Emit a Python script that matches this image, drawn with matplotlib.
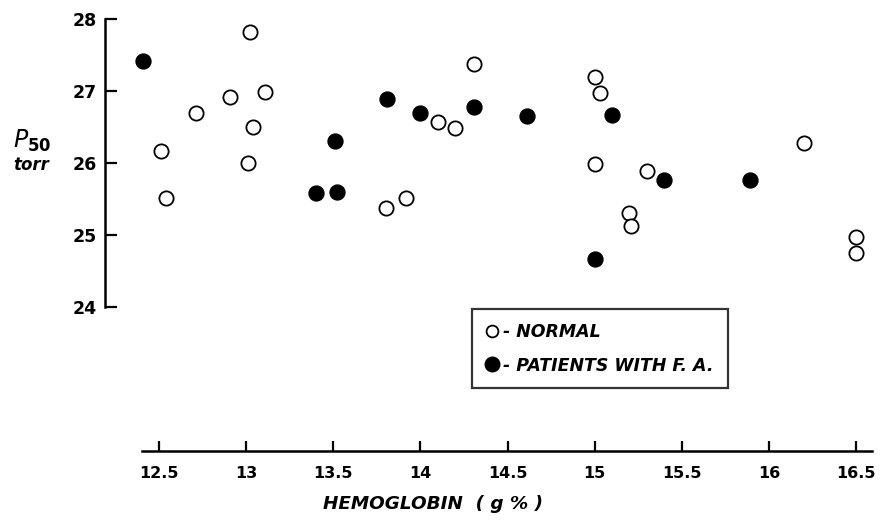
import matplotlib.pyplot as plt
from matplotlib.lines import Line2D

# normal subjects
normal_hb = [13.02, 12.71, 12.91, 13.11, 12.51, 12.54, 13.04, 13.01, 13.80, 13.92, 14.10,
             14.20, 14.31, 15.00, 15.03, 15.00, 15.30, 15.20, 15.21, 16.20, 16.50, 16.50]
normal_p50 = [27.82, 26.70, 26.91, 26.99, 26.17, 25.51, 26.50, 26.00, 25.38, 25.51, 26.57,
              26.48, 27.38, 27.19, 26.97, 25.99, 25.89, 25.31, 25.13, 26.28, 24.97, 24.75]

# patients with F.A.
fa_hb = [12.41, 13.51, 13.40, 13.52, 13.81, 14.00, 14.31, 14.61, 15.10, 15.40, 15.89, 15.00]
fa_p50 = [27.41, 26.30, 25.58, 25.60, 26.89, 26.69, 26.78, 26.65, 26.66, 25.77, 25.77, 24.67]

xticks = [12.5, 13, 13.5, 14, 14.5, 15, 15.5, 16, 16.5]
xticklabels = ["12.5", "13", "13.5", "14", "14.5", "15", "15.5", "16", "16.5"]
yticks = [24, 25, 26, 27, 28]

W, H = 886, 521
fig = plt.figure(figsize=(W / 100, H / 100), dpi=100)
plt.rcParams["mathtext.fontset"] = "dejavusans"

# axes box placed in pixels
left, right, top, bottom = 105, 871.7, 19, 451
ax = fig.add_axes([left / W, 1 - bottom / H, (right - left) / W, (bottom - top) / H])
ax.set_xlim(12.19, 16.59)
ax.set_ylim(22.0, 28.0)

ax.scatter(normal_hb, normal_p50, s=105, facecolors="white", edgecolors="black",
           linewidths=1.3, zorder=3)
ax.scatter(fa_hb, fa_p50, s=115, facecolors="black", edgecolors="black",
           linewidths=1.0, zorder=3)

for s in ["top", "right"]:
    ax.spines[s].set_visible(False)
ax.spines["left"].set_bounds(24, 28)
ax.spines["bottom"].set_bounds(12.40, 16.59)
ax.spines["left"].set_linewidth(1.8)
ax.spines["bottom"].set_linewidth(1.8)

font = dict(family="DejaVu Sans", weight="bold")
ax.set_yticks(yticks)
ax.set_yticklabels([str(v) for v in yticks], fontsize=12.5, **font)
ax.set_xticks(xticks)
ax.set_xticklabels(xticklabels, fontsize=11.5, **font)
ax.tick_params(axis="y", direction="in", length=8.5, width=1.6, pad=6)
ax.tick_params(axis="x", direction="in", length=7.5, width=1.6, pad=11)

fig.text(433 / W, 1 - 504 / H, "HEMOGLOBIN  ( g % )", ha="center", va="center",
         fontsize=13.2, style="italic", **font)
fig.text(32 / W, 1 - 141 / H, r"$\mathit{P}_{\mathbf{50}}$", ha="center", va="center",
         fontsize=17)
fig.text(31 / W, 1 - 165 / H, "torr", ha="center", va="center", fontsize=12,
         style="italic", **font)

handles = [
    Line2D([], [], marker="o", linestyle="none", markersize=8.5, markerfacecolor="white",
           markeredgecolor="black", markeredgewidth=1.3),
    Line2D([], [], marker="o", linestyle="none", markersize=10.5, markerfacecolor="black",
           markeredgecolor="black"),
]
leg = fig.legend(handles, ["- NORMAL", "- PATIENTS WITH F. A."],
                 loc="upper left", bbox_to_anchor=(472 / W, 1 - 309 / H),
                 borderaxespad=0, frameon=True, fancybox=False, handlelength=0.7,
                 handletextpad=0.3, labelspacing=0.9, borderpad=0.8,
                 prop=dict(family="DejaVu Sans", weight="bold", style="italic", size=12.5))
leg.get_frame().set_edgecolor("black")
leg.get_frame().set_linewidth(1.6)

fig.savefig("out.png", dpi=100)
